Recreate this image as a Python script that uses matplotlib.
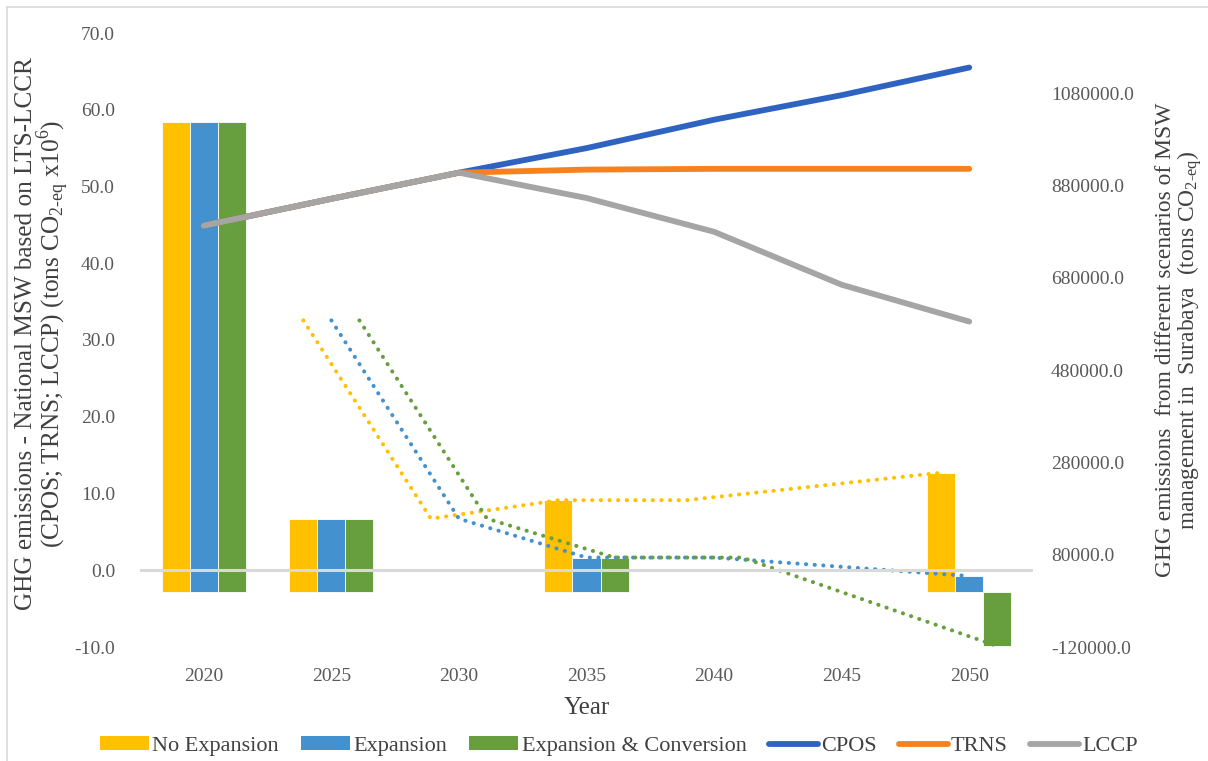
import numpy as np
import pandas as pd
import matplotlib
matplotlib.use("Agg")
import matplotlib.pyplot as plt
from matplotlib.lines import Line2D
from matplotlib.patches import Patch
from matplotlib.ticker import FormatStrFormatter

plt.rcParams["font.family"] = ["Liberation Serif", "DejaVu Serif"]
plt.rcParams["mathtext.fontset"] = "custom"
plt.rcParams["mathtext.rm"] = "Liberation Serif"

years = ["2020", "2025", "2030", "2035", "2040", "2045", "2050"]

# National MSW emissions, LTS-LCCR pathways (tons CO2-eq x10^6)
cpos = [44.9, 48.4, 51.8, 55.0, 58.7, 61.9, 65.5]
trns = [44.9, 48.4, 51.8, 52.2, 52.3, 52.3, 52.3]
lccp = [44.9, 48.4, 51.8, 48.5, 44.1, 37.2, 32.4]

# Surabaya MSW scenarios (tons CO2-eq); NaN = no value for that year
no_expansion = [1017000, 158000, np.nan, 198000, np.nan, np.nan, 257600]
expansion = [1017000, 158000, np.nan, 73800, np.nan, np.nan, 33700]
expansion_conv = [1017000, 158000, np.nan, 73800, np.nan, np.nan, -118000]

C_YEL = "#FFC000"
C_BLU = "#4391CF"
C_GRN = "#679F3F"
C_CPOS = "#2E63C1"
C_TRNS = "#F5821F"
C_LCCP = "#A5A5A5"
TICK_C = "#595959"
TITLE_C = "#404040"


def moving_average(vals):
    # 2-period moving average trendline, blanks skipped
    s = pd.Series(vals, dtype=float).rolling(2, min_periods=1).mean()
    s.iloc[0] = np.nan
    return s.to_numpy()


fig = plt.figure(figsize=(12.08, 7.61), dpi=100)
ax_bar = fig.add_axes([140 / 1208, 1 - 647 / 761, 893 / 1208, 614 / 761])
ax_line = ax_bar.twinx()

x = np.arange(len(years))
w = 0.22
scen = [
    (no_expansion, C_YEL, "No Expansion", -w),
    (expansion, C_BLU, "Expansion", 0.0),
    (expansion_conv, C_GRN, "Expansion & Conversion", w),
]

for vals, col, lab, off in scen:
    v = np.asarray(vals, dtype=float)
    ok = ~np.isnan(v)
    ax_bar.bar(x[ok] + off, v[ok], width=w, color=col, edgecolor="white",
               linewidth=0.6, zorder=2)
for vals, col, lab, off in scen:
    ma = moving_average(vals)
    ok = ~np.isnan(ma)
    ax_bar.plot(x[ok] + off, ma[ok], color=col, lw=2.9,
                linestyle=(0, (0.05, 2.1)), dash_capstyle="round", zorder=3)

ax_bar.set_ylim(-120000, 1210000)
ax_bar.set_yticks(np.arange(-120000, 1080001, 200000))
ax_bar.yaxis.set_major_formatter(FormatStrFormatter("%.1f"))
ax_bar.yaxis.tick_right()
ax_bar.yaxis.set_label_position("right")
ax_bar.set_xlim(-0.5, len(years) - 0.5)
ax_bar.set_xticks(x)
ax_bar.set_xticklabels(years)
ax_bar.tick_params(axis="x", length=0, pad=15, labelsize=14, labelcolor=TICK_C)
ax_bar.tick_params(axis="y", length=0, pad=13, labelsize=14, labelcolor=TICK_C)
ax_bar.set_xlabel("Year", fontsize=18, color=TITLE_C, labelpad=9)
ax_bar.set_ylabel("GHG emissions  from different scenarios of MSW\n"
                  "management in  Surabaya  (tons CO$_{\\text{2-eq}}$)",
                  fontsize=16.9, color=TITLE_C, linespacing=1.0)
ax_bar.yaxis.set_label_coords((1155 - 140) / 893, 0.5)

# National pathways on the left-hand scale, above the bars
ax_line.axhline(0, color="#D9D9D9", lw=2.2, zorder=1)
ax_line.plot(x, cpos, color=C_CPOS, lw=4.2, solid_capstyle="round", zorder=3)
ax_line.plot(x, trns, color=C_TRNS, lw=4.2, solid_capstyle="round", zorder=4)
ax_line.plot(x, lccp, color=C_LCCP, lw=4.2, solid_capstyle="round", zorder=5)
ax_line.set_ylim(-10, 70)
ax_line.set_yticks(np.arange(-10, 71, 10))
ax_line.yaxis.set_major_formatter(FormatStrFormatter("%.1f"))
ax_line.yaxis.tick_left()
ax_line.yaxis.set_label_position("left")
ax_line.tick_params(axis="y", length=0, pad=18, labelsize=14, labelcolor=TICK_C)
ax_line.set_ylabel("GHG emissions - National MSW based on LTS-LCCR\n"
                   "(CPOS; TRNS; LCCP) (tons CO$_{\\text{2-eq}}$ x10$^{\\text{6}}$)",
                   fontsize=18.2, color=TITLE_C, linespacing=0.95)
ax_line.yaxis.set_label_coords((72 - 140) / 893, 0.51)

for a in (ax_bar, ax_line):
    for sp in a.spines.values():
        sp.set_visible(False)

handles = [Patch(facecolor=c, label=l) for _, c, l, _ in scen] + [
    Line2D([], [], color=C_CPOS, lw=4.2, solid_capstyle="round", label="CPOS"),
    Line2D([], [], color=C_TRNS, lw=4.2, solid_capstyle="round", label="TRNS"),
    Line2D([], [], color=C_LCCP, lw=4.2, solid_capstyle="round", label="LCCP"),
]
fig.legend(handles=handles, loc="center", bbox_to_anchor=(619 / 1208, 1 - 746 / 761),
           ncol=6, frameon=False, fontsize=16, handlelength=2.2, handleheight=0.55,
           handletextpad=0.15, columnspacing=1.0, labelcolor=TITLE_C)

# chart-area border
fig.add_artist(Line2D([7 / 1208, 1], [1 - 7 / 761] * 2, transform=fig.transFigure,
                      color="#D9D9D9", lw=1.2))
fig.add_artist(Line2D([7 / 1208] * 2, [0, 1 - 7 / 761], transform=fig.transFigure,
                      color="#D9D9D9", lw=1.2))

fig.savefig("out.png", dpi=100, facecolor="white")
